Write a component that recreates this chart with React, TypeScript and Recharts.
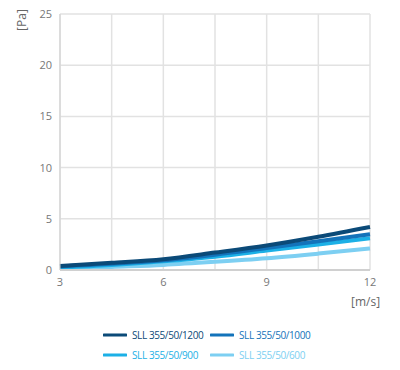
import { CartesianGrid, Line, LineChart, XAxis, YAxis } from "recharts";

const SPEEDS = [3, 4.5, 6, 7.5, 9, 10.5, 12];
const SLL_1200 = [0.4, 0.7, 1.05, 1.7, 2.4, 3.25, 4.2];
const SLL_1000 = [0.35, 0.6, 0.95, 1.5, 2.15, 2.8, 3.5];
const SLL_900 = [0.25, 0.5, 0.85, 1.3, 1.9, 2.5, 3.1];
const SLL_600 = [0.1, 0.3, 0.5, 0.8, 1.15, 1.6, 2.1];
const Y_TICKS = [0, 5, 10, 15, 20, 25];

const SERIES = [
  { key: "s600", label: "SLL 355/50/600", color: "#7dcff2", values: SLL_600 },
  { key: "s900", label: "SLL 355/50/900", color: "#1cb0e6", values: SLL_900 },
  { key: "s1000", label: "SLL 355/50/1000", color: "#1373ba", values: SLL_1000 },
  { key: "s1200", label: "SLL 355/50/1200", color: "#0b4a78", values: SLL_1200 },
];

const LEGEND_ORDER = ["s1200", "s1000", "s900", "s600"];

const FONT = "'Open Sans', sans-serif";
const AXIS_STYLE = { fill: "#777", fontSize: 11, fontFamily: FONT };

const data = SPEEDS.map((v, i) => {
  const row: Record<string, number> = { v };
  for (const s of SERIES) row[s.key] = s.values[i];
  return row;
});

function LegendChip({ color, label }: { color: string; label: string }) {
  return (
    <span
      style={{
        display: "flex",
        alignItems: "center",
        width: 107,
        color,
        fontSize: 10,
        letterSpacing: -0.4,
        fontFamily: FONT,
      }}
    >
      <svg width="24" height="4" style={{ marginRight: 5 }} aria-hidden>
        <line x1="1" y1="2" x2="23" y2="2" stroke={color} strokeWidth="3" strokeLinecap="round" />
      </svg>
      {label}
    </span>
  );
}

export default function App() {
  const legend = LEGEND_ORDER.map((k) => SERIES.find((s) => s.key === k)!);
  return (
    <div style={{ position: "relative", width: 400, height: 370, background: "#fff" }}>
      <style>{"body{margin:0}"}</style>
      <LineChart width={400} height={310} data={data} margin={{ top: 14, right: 30, bottom: 0, left: 0 }}>
        <CartesianGrid stroke="#e2e2e2" strokeWidth={1.5} />
        <XAxis
          dataKey="v"
          type="number"
          domain={[3, 12]}
          ticks={SPEEDS}
          interval={0}
          tick={AXIS_STYLE}
          tickLine={false}
          stroke="#d0d0d0"
          strokeWidth={2}
          height={40}
          tickFormatter={(v: number) => (v % 3 === 0 ? String(v) : "")}
        />
        <YAxis
          domain={[0, 25]}
          ticks={Y_TICKS}
          tick={AXIS_STYLE}
          tickLine={false}
          stroke="#cfcfcf"
          width={60}
        />
        {SERIES.map((s) => (
          <Line
            key={s.key}
            type="monotone"
            dataKey={s.key}
            stroke={s.color}
            strokeWidth={4}
            dot={false}
            isAnimationActive={false}
          />
        ))}
      </LineChart>
      <div
        style={{
          position: "absolute",
          left: 21,
          top: 20,
          transform: "translate(-50%, -50%) rotate(-90deg)",
          fontSize: 12,
          color: "#666",
          fontFamily: FONT,
        }}
      >
        [Pa]
      </div>
      <div style={{ position: "absolute", left: 351, top: 293, fontSize: 12, color: "#666", fontFamily: FONT }}>
        [m/s]
      </div>
      <div style={{ position: "absolute", left: 103, top: 328, display: "flex", flexWrap: "wrap", width: 220, rowGap: 6 }}>
        {legend.map((s) => (
          <LegendChip key={s.key} color={s.color} label={s.label} />
        ))}
      </div>
    </div>
  );
}
